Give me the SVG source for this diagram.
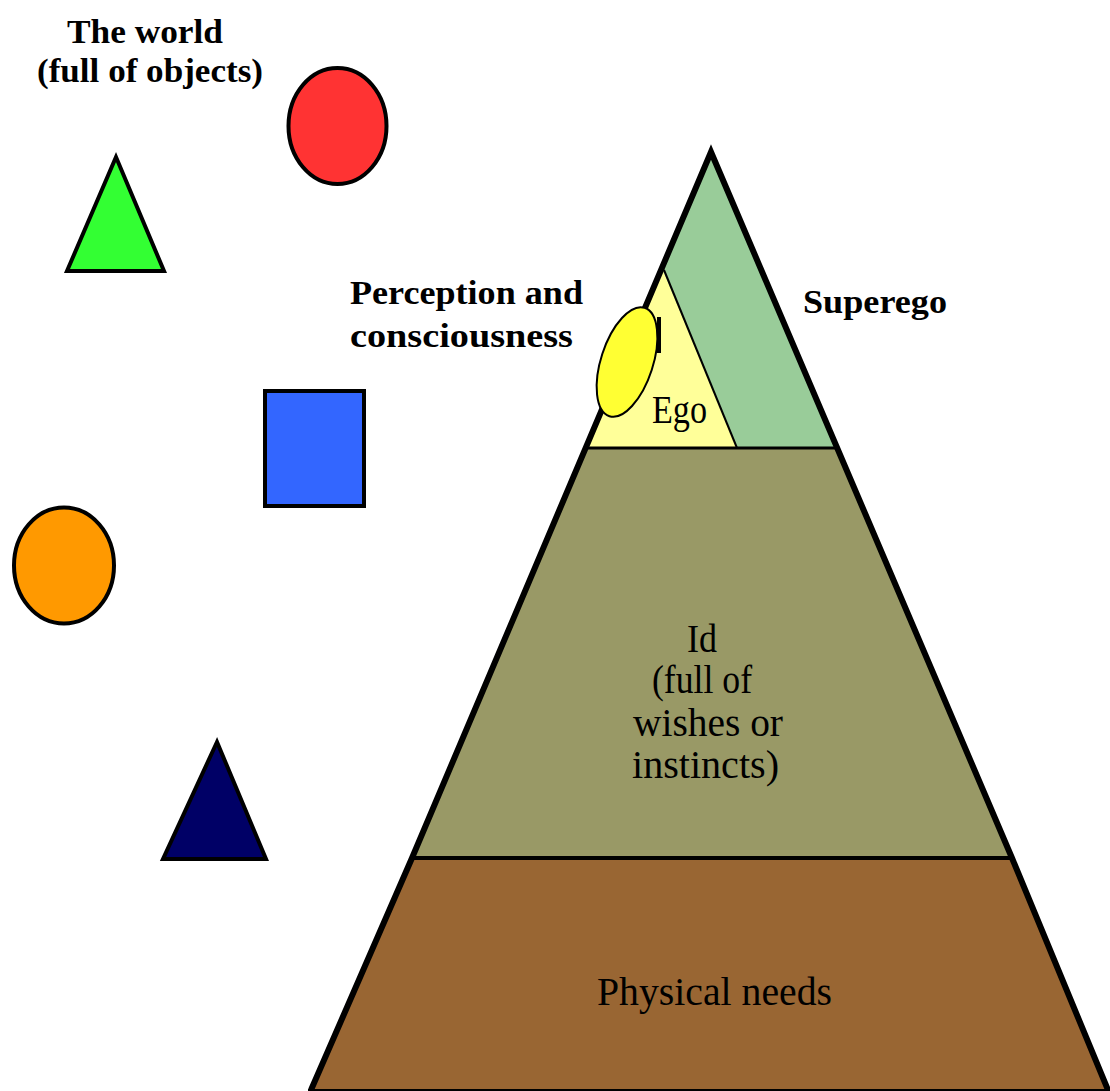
<svg xmlns="http://www.w3.org/2000/svg" width="1110" height="1091" viewBox="0 0 1110 1091">
<style>
.shape{stroke:#000;stroke-width:4;stroke-linejoin:miter}
.lbl{font-family:"Liberation Serif","DejaVu Serif",serif;font-weight:bold;font-size:34px;fill:#000}
.in{font-family:"Liberation Serif","DejaVu Serif",serif;font-size:40px;fill:#000;text-anchor:start}
</style>
<rect width="1110" height="1091" fill="#fff"/>
<g id="world-label">
<text class="lbl" x="67" y="43" textLength="156" lengthAdjust="spacingAndGlyphs">The world</text>
<text class="lbl" x="37" y="82" textLength="226" lengthAdjust="spacingAndGlyphs">(full of objects)</text>
</g>
<g id="red-circle"><ellipse class="shape" cx="337.5" cy="126" rx="49" ry="58" fill="#ff3333"/></g>
<g id="green-triangle"><polygon class="shape" points="116,157 67,271 164,271" fill="#33ff33"/></g>
<g id="blue-square"><rect class="shape" x="265" y="391" width="99" height="115" fill="#3366ff"/></g>
<g id="orange-circle"><ellipse class="shape" cx="64" cy="565.5" rx="50" ry="58" fill="#ff9900"/></g>
<g id="navy-triangle"><polygon class="shape" points="217,742 163,859 266,859" fill="#000066"/></g>
<g id="pyramid">
<g id="physical-needs">
<polygon points="412,858 1012,858 1108,1090 311,1090" fill="#996633"/>
<text class="in" x="597" y="1005" textLength="235" lengthAdjust="spacingAndGlyphs">Physical needs</text>
</g>
<g id="id">
<polygon points="586,448 837,448 1012,858 412,858" fill="#999966"/>
<text class="in" x="687" y="652" textLength="30" lengthAdjust="spacingAndGlyphs">Id</text>
<text class="in" x="652" y="693" textLength="100" lengthAdjust="spacingAndGlyphs">(full of</text>
<text class="in" x="633" y="736" textLength="150" lengthAdjust="spacingAndGlyphs">wishes or</text>
<text class="in" x="632" y="778" textLength="147" lengthAdjust="spacingAndGlyphs">instincts)</text>
</g>
<g id="superego">
<polygon points="711,152 586,448 837,448" fill="#99cc99"/>
</g>
<g id="ego">
<polygon points="662,268 586,448 737,448" fill="#ffff99"/>
<line x1="664" y1="270" x2="737" y2="448" stroke="#000" stroke-width="2"/>
<text class="in" x="652" y="423" font-size="36" textLength="55" lengthAdjust="spacingAndGlyphs">Ego</text>
</g>
<line x1="586" y1="448" x2="837" y2="448" stroke="#000" stroke-width="3"/>
<line x1="412" y1="858" x2="1012" y2="858" stroke="#000" stroke-width="4"/>
<path d="M311,1090 L412,858 L711,152 L1012,858 L1108,1090" fill="none" stroke="#000" stroke-width="6" stroke-linejoin="miter"/>
<line x1="308" y1="1090" x2="1110" y2="1090" stroke="#000" stroke-width="2"/>
</g>
<g id="perception">
<ellipse cx="627" cy="362" rx="26" ry="57" transform="rotate(18 627 362)" fill="#ffff33" stroke="#000" stroke-width="2"/>
<line x1="659" y1="317" x2="659" y2="353" stroke="#000" stroke-width="4"/>
<text class="lbl" x="350" y="304" textLength="233" lengthAdjust="spacingAndGlyphs">Perception and</text>
<text class="lbl" x="350" y="347" textLength="223" lengthAdjust="spacingAndGlyphs">consciousness</text>
</g>
<g id="superego-label">
<text class="lbl" x="803" y="313" textLength="144" lengthAdjust="spacingAndGlyphs">Superego</text>
</g>
</svg>
